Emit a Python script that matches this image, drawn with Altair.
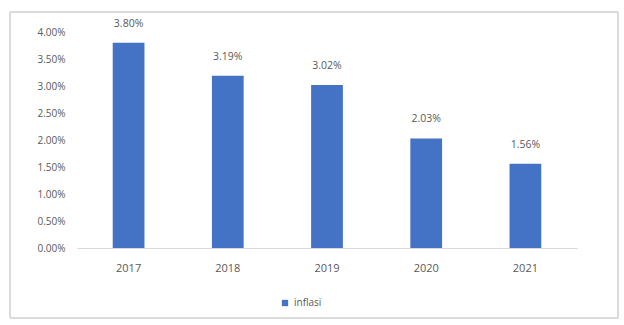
import altair as alt
import pandas as pd

years = ["2017", "2018", "2019", "2020", "2021"]
inflasi = [0.0380, 0.0319, 0.0302, 0.0203, 0.0156]
series = ["inflasi"] * 5
ticks = [0, 0.005, 0.01, 0.015, 0.02, 0.025, 0.03, 0.035, 0.04]

df = pd.DataFrame({"tahun": years, "nilai": inflasi, "seri": series})

FONT = "Open Sans"
GREY = "#595959"

base = alt.Chart(df).encode(
    x=alt.X("tahun:N", title=None, sort=years,
            scale=alt.Scale(paddingInner=0.68, paddingOuter=0.36),
            axis=alt.Axis(labelAngle=0, domainColor="#d9d9d9", ticks=False,
                          labelPadding=14, labelFontSize=11, labelColor=GREY,
                          labelFont=FONT)),
    y=alt.Y("nilai:Q", title=None,
            scale=alt.Scale(domain=[0, 0.04], nice=False),
            axis=alt.Axis(format=".2%", values=ticks,
                          labelOverlap=False,
                          domain=False, ticks=False, grid=False, labelPadding=12,
                          labelFontSize=10, labelColor=GREY, labelFont=FONT)),
)

bars = base.mark_bar(color="#4472C4").encode(
    color=alt.Color("seri:N", scale=alt.Scale(range=["#4472C4"]),
                    legend=alt.Legend(title=None, orient="none", legendX=203, legendY=266,
                                      symbolType="square", symbolSize=40,
                                      labelFontSize=10, labelColor=GREY, labelFont=FONT)),
)

labels = base.mark_text(baseline="middle", dy=-19, fontSize=10.5, color=GREY, font=FONT).encode(
    text=alt.Text("nilai:Q", format=".2%"),
)

border = alt.Chart(df).mark_rect(fill=None, stroke="#d9d9d9", strokeWidth=1).encode(
    x=alt.value(-67), x2=alt.value(541), y=alt.value(-20), y2=alt.value(286)
)

chart = alt.layer(border, bars, labels).properties(
    width=500, height=216,
    autosize=alt.AutoSizeParams(type="none"),
    padding={"left": 77, "top": 32, "right": 47, "bottom": 77},
    background="white",
).configure_view(stroke=None)

chart.save("out.html", embed_options={"renderer": "svg", "actions": False})
